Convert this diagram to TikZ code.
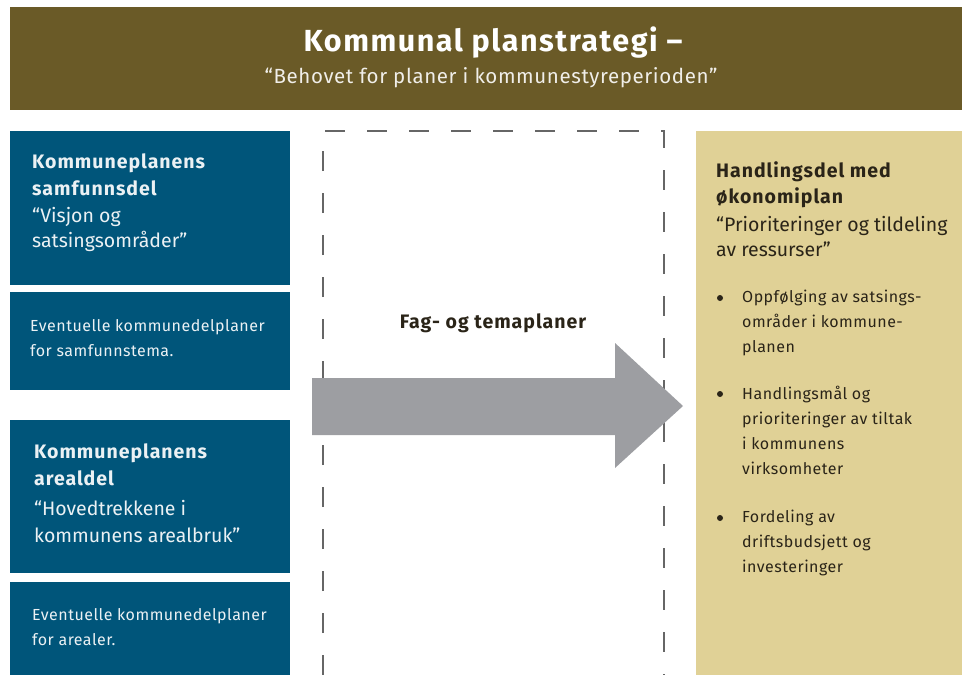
\documentclass[tikz,border=0pt]{standalone}
\usepackage{fontspec}
\setmainfont{Fira Sans}
\newfontfamily\widebf[LetterSpace=5]{Fira Sans}
\newfontfamily\widerm[LetterSpace=3]{Fira Sans}
\usetikzlibrary{positioning}
\definecolor{headcol}{HTML}{6A5A27}
\definecolor{bluecol}{HTML}{00557A}
\definecolor{tancol}{HTML}{E0D196}
\definecolor{arrowcol}{HTML}{9D9EA2}
\definecolor{darktxt}{HTML}{2A2418}

\begin{document}
\begin{tikzpicture}[x=1pt,y=-1pt,
    bluebox/.style={fill=bluecol,draw=none,anchor=north west,minimum width=280pt,inner sep=0pt},
    bluetxt/.style={anchor=north west,align=left,text=white!92!bluecol,inner sep=0pt},
    bigtxt/.style={font=\fontsize{19.5}{27}\selectfont},
    smalltxt/.style={font=\widerm\fontsize{16}{25}\selectfont},
    righttxt/.style={anchor=north west,align=left,text=darktxt,inner sep=0pt,font=\widerm\fontsize{16}{25}\selectfont},
    dot/.style={circle,fill=darktxt,inner sep=0pt,minimum size=6pt}]
        \useasboundingbox (0,0) rectangle (962,675);
        \fill[headcol] (10,7) rectangle (962,110); % header
        \node[text=white,font=\widebf\fontsize{30.5}{36}\selectfont\bfseries] (title) at (493,43) {Kommunal planstrategi –};
        \node[text=white!90!headcol,font=\widerm\fontsize{20.5}{22}\selectfont] (subtitle) at (491,78) {“Behovet for planer i kommunestyreperioden”};
        % left column
        \node[bluebox,minimum height=154pt] (samf) at (10,131) {};
        \node[bluetxt,bigtxt] (samftxt) at (32,153) {{\widebf\bfseries Kommuneplanens}\\{\widebf\bfseries samfunnsdel}\\[0pt]“Visjon og\\[-2pt]satsingsområder”};
        \node[bluebox,minimum height=98pt] (samfdel) at (10,292) {};
        \node[bluetxt,smalltxt] (samfdeltxt) at (30,319) {Eventuelle kommunedelplaner\\for samfunnstema.};
        \node[bluebox,minimum height=153pt] (areal) at (10,420) {};
        \node[bluetxt,bigtxt] (arealtxt) at (34,443) {{\widebf\bfseries Kommuneplanens}\\{\widebf\bfseries arealdel}\\[3pt]“Hovedtrekkene i\\kommunens arealbruk”};
        \node[bluebox,minimum height=93pt] (arealdel) at (10,582) {};
        \node[bluetxt,smalltxt] (arealdeltxt) at (32,608) {Eventuelle kommunedelplaner\\for arealer.};
        % middle
        \draw[gray!80!black,line width=1.3pt,dash pattern=on 20pt off 22pt] (323,675) -- (323,131) -- (664,131) -- (664,675); % dashed frame
        \node[text=darktxt,font=\widebf\fontsize{19.5}{22}\selectfont\bfseries] (fag) at (493,323) {Fag- og temaplaner};
        \coordinate (tail) at (312,406);
        \coordinate (tip) at (683,406);
        \fill[arrowcol] (tail) ++(0,-28) -- (615,378) -- (615,343) -- (tip) -- (615,468) -- (615,435) -- (312,435) -- cycle; % block arrow
        % right column
        \node[fill=tancol,anchor=north west,minimum width=266pt,minimum height=544pt,inner sep=0pt] (handl) at (696,131) {};
        \node[righttxt,font=\fontsize{19.5}{26}\selectfont] (handltxt) at (716,161) {{\widebf\bfseries Handlingsdel med}\\{\widebf\bfseries økonomiplan}\\[2pt]“Prioriteringer og tildeling\\[-1pt]av ressurser”};
        \node[dot] (b1) at (720,298) {};
        \node[righttxt] (t1) at (742,290) {Oppfølging av satsings-\\områder i kommune-\\planen};
        \node[dot] (b2) at (720,394) {};
        \node[righttxt] (t2) at (742,386) {Handlingsmål og\\prioriteringer av tiltak\\i kommunens\\virksomheter};
        \node[dot] (b3) at (720,518) {};
        \node[righttxt] (t3) at (742,510) {Fordeling av\\driftsbudsjett og\\investeringer};
\end{tikzpicture}
\end{document}
